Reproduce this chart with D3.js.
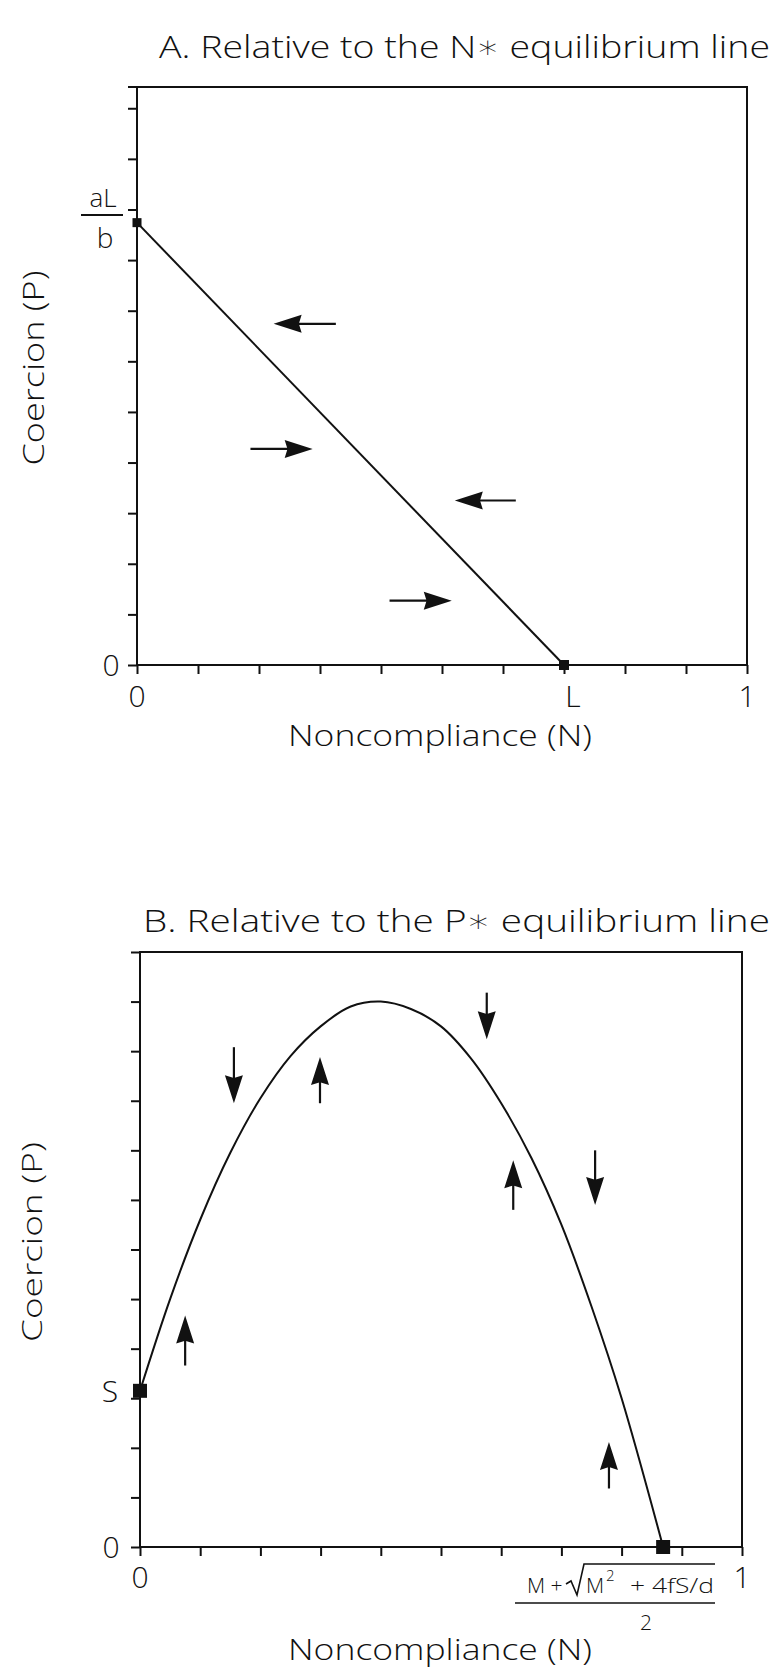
<!DOCTYPE html>
<html>
<head>
<meta charset="utf-8">
<script src="https://cdnjs.cloudflare.com/ajax/libs/d3/7.8.5/d3.min.js"></script>
<style>
body { margin: 0; background: #fff; }
text { font-family: "Open Sans", "DejaVu Sans", sans-serif; font-weight: 300; fill: #111; }
</style>
</head>
<body>
<div id="chart"></div>
<script>
// ---- panel A : relative to the N* equilibrium line ----
var lineAN = [0, 0.7];            // noncompliance at the two ends of N*
var lineAP = [0.874, 0];          // coercion at the two ends (aL/b, 0)
var ticksAX = [0, 0.1, 0.2, 0.3, 0.4, 0.5, 0.6, 0.7, 0.8, 0.9, 1];
var ticksAY = [0, 0.1, 0.2, 0.3, 0.4, 0.5, 0.6, 0.7, 0.8, 0.9, 1.0, 1.1];
var labelsAXat = [0, 0.7, 1];
var labelsAX = ["0", "L", "1"];
var arrowsA = [
  {from: 0.326, to: 0.224, p: 0.674},
  {from: 0.186, to: 0.288, p: 0.427},
  {from: 0.621, to: 0.521, p: 0.325},
  {from: 0.414, to: 0.516, p: 0.127}
];

// ---- panel B : relative to the P* equilibrium line ----
var curveBN = [0, 0.05, 0.1, 0.15, 0.2, 0.25, 0.3, 0.35, 0.4, 0.45, 0.5, 0.55, 0.6, 0.65, 0.7, 0.75, 0.8, 0.869];
var curveBP = [3.15, 5.0, 6.6, 7.95, 9.05, 9.9, 10.5, 10.9, 11.0, 10.85, 10.5, 9.85, 8.95, 7.85, 6.5, 4.85, 3.0, 0];
var ticksBX = [0, 0.1, 0.2, 0.3, 0.4, 0.5, 0.6, 0.7, 0.8, 0.9, 1];
var ticksBY = [0, 1, 2, 3, 4, 5, 6, 7, 8, 9, 10, 11, 12];
var labelsBXat = [0, 1];
var labelsBX = ["0", "1"];
var arrowsB = [
  {n: 0.156, from: 10.08, to: 8.95},
  {n: 0.299, from: 8.95, to: 9.88},
  {n: 0.576, from: 11.18, to: 10.24},
  {n: 0.075, from: 3.66, to: 4.67},
  {n: 0.779, from: 1.18, to: 2.12},
  {n: 0.62, from: 6.8, to: 7.8},
  {n: 0.756, from: 8.0, to: 6.9}
];

var W = 778, H = 1671;
var ink = "#111";

var svg = d3.select("#chart").append("svg")
  .attr("width", W)
  .attr("height", H)
  .style("background", "#fff");

var xA = d3.scaleLinear().domain([0, 1]).range([137, 747]);
var yA = d3.scaleLinear().domain([0, 1.142]).range([665, 87]);
var xB = d3.scaleLinear().domain([0, 1]).range([140, 742]);
var yB = d3.scaleLinear().domain([0, 12]).range([1547, 952]);

function frame(x, y, topExtra) {
  svg.append("rect")
    .attr("x", x(0)).attr("y", y(y.domain()[1]))
    .attr("width", x(1) - x(0)).attr("height", y(0) - y(y.domain()[1]))
    .attr("fill", "none").attr("stroke", ink).attr("stroke-width", 2);
  if (topExtra) {
    svg.append("line")
      .attr("x1", x(0) - 9).attr("x2", x(0))
      .attr("y1", y(y.domain()[1])).attr("y2", y(y.domain()[1]))
      .attr("stroke", ink).attr("stroke-width", 2);
  }
}

function axes(x, y, tx, ty) {
  var gx = svg.append("g")
    .attr("transform", "translate(0," + y(0) + ")")
    .call(d3.axisBottom(x).tickValues(tx).tickSize(9).tickSizeOuter(0).tickFormat(""));
  var gy = svg.append("g")
    .attr("transform", "translate(" + x(0) + ",0)")
    .call(d3.axisLeft(y).tickValues(ty).tickSize(9).tickSizeOuter(0).tickFormat(""));
  [gx, gy].forEach(function(g) {
    g.select(".domain").remove();
    g.selectAll(".tick line").attr("stroke", ink).attr("stroke-width", 2);
  });
}

// arrow: tail (x0,y0) -> tip (x1,y1)
function arrow(x0, y0, x1, y1) {
  var len = Math.hypot(x1 - x0, y1 - y0);
  var dx = (x1 - x0) / len, dy = (y1 - y0) / len;
  var hl = 28, hw = 9;
  var bx = x1 - dx * hl, by = y1 - dy * hl;
  svg.append("line")
    .attr("x1", x0).attr("y1", y0).attr("x2", bx + dx * 4).attr("y2", by + dy * 4)
    .attr("stroke", ink).attr("stroke-width", 2.2);
  var pts = [
    [x1, y1],
    [bx - dy * hw, by + dx * hw],
    [x1 - dx * hl * 0.9, y1 - dy * hl * 0.9],
    [bx + dy * hw, by - dx * hw]
  ];
  svg.append("path")
    .attr("d", "M" + pts.join("L") + "Z")
    .attr("fill", ink);
}

function square(cx, cy, s) {
  svg.append("rect")
    .attr("x", cx - s / 2).attr("y", cy - s / 2)
    .attr("width", s).attr("height", s)
    .attr("fill", ink);
}

function label(x, y, t, size) {
  return svg.append("text")
    .attr("x", x).attr("y", y)
    .attr("text-anchor", "middle")
    .style("font-size", size + "px")
    .text(t);
}

// ================= Panel A =================
svg.append("text")
  .attr("x", 159).attr("y", 58)
  .attr("textLength", 611).attr("lengthAdjust", "spacingAndGlyphs")
  .style("font-size", "32px")
  .text("A. Relative to the N\u2217 equilibrium line");

frame(xA, yA, true);
axes(xA, yA, ticksAX, ticksAY);

svg.append("path")
  .datum(d3.zip(lineAN, lineAP))
  .attr("d", d3.line().x(function(d){ return xA(d[0]); }).y(function(d){ return yA(d[1]); }))
  .attr("fill", "none").attr("stroke", ink).attr("stroke-width", 2);

square(xA(lineAN[0]), yA(lineAP[0]), 9);
square(xA(lineAN[1]), yA(lineAP[1]), 10);

arrowsA.forEach(function(a) {
  arrow(xA(a.from), yA(a.p), xA(a.to), yA(a.p));
});

labelsAX.forEach(function(t, i) {
  label(xA(labelsAXat[i]) + (t == "L" ? 9 : 0), 707, t, 30);
});
label(111, yA(0) + 11, "0", 30);

// aL/b fraction
label(103, 207, "aL", 26);
svg.append("line")
  .attr("x1", 81).attr("x2", 123).attr("y1", 215).attr("y2", 215)
  .attr("stroke", ink).attr("stroke-width", 2);
label(105, 248, "b", 28);

svg.append("text")
  .attr("x", 288).attr("y", 746)
  .attr("textLength", 304).attr("lengthAdjust", "spacingAndGlyphs")
  .style("font-size", "30px")
  .text("Noncompliance (N)");

svg.append("text")
  .attr("transform", "translate(44,368) rotate(-90)")
  .attr("text-anchor", "middle")
  .attr("textLength", 195).attr("lengthAdjust", "spacingAndGlyphs")
  .style("font-size", "30px")
  .text("Coercion (P)");

// ================= Panel B =================
svg.append("text")
  .attr("x", 143).attr("y", 932)
  .attr("textLength", 627).attr("lengthAdjust", "spacingAndGlyphs")
  .style("font-size", "32px")
  .text("B.  Relative to the P\u2217 equilibrium line");

frame(xB, yB, false);
axes(xB, yB, ticksBX, ticksBY);

svg.append("path")
  .datum(d3.zip(curveBN, curveBP))
  .attr("d", d3.line().curve(d3.curveCatmullRom)
    .x(function(d){ return xB(d[0]); }).y(function(d){ return yB(d[1]); }))
  .attr("fill", "none").attr("stroke", ink).attr("stroke-width", 2);

square(xB(curveBN[0]), yB(curveBP[0]), 14);
square(xB(curveBN[curveBN.length - 1]), yB(curveBP[curveBP.length - 1]), 14);

arrowsB.forEach(function(a) {
  arrow(xB(a.n), yB(a.from), xB(a.n), yB(a.to));
});

labelsBX.forEach(function(t, i) {
  label(xB(labelsBXat[i]), 1588, t, 30);
});
label(111, yB(0) + 11, "0", 30);
label(110, yB(curveBP[0]) + 11, "S", 30);

// root label: (M + sqrt(M^2 + 4fS/d)) / 2
var fr = svg.append("g");
fr.append("text").attr("x", 527).attr("y", 1593).style("font-size", "21px").text("M +");
fr.append("path")
  .attr("d", "M566,1584L571,1581L577,1595L584,1564L715,1564")
  .attr("fill", "none").attr("stroke", ink).attr("stroke-width", 1.6);
fr.append("text").attr("x", 586).attr("y", 1593).style("font-size", "21px").text("M");
fr.append("text").attr("x", 606).attr("y", 1581).style("font-size", "15px").text("2");
fr.append("text").attr("x", 630).attr("y", 1593)
  .attr("textLength", 84).attr("lengthAdjust", "spacingAndGlyphs")
  .style("font-size", "21px").text("+  4fS/d");
fr.append("line")
  .attr("x1", 515).attr("x2", 715).attr("y1", 1603).attr("y2", 1603)
  .attr("stroke", ink).attr("stroke-width", 1.6);
label(646, 1630, "2", 21);

svg.append("text")
  .attr("x", 288).attr("y", 1660)
  .attr("textLength", 304).attr("lengthAdjust", "spacingAndGlyphs")
  .style("font-size", "30px")
  .text("Noncompliance (N)");

svg.append("text")
  .attr("transform", "translate(42,1242) rotate(-90)")
  .attr("text-anchor", "middle")
  .attr("textLength", 200).attr("lengthAdjust", "spacingAndGlyphs")
  .style("font-size", "28px")
  .text("Coercion (P)");
</script>
</body>
</html>
